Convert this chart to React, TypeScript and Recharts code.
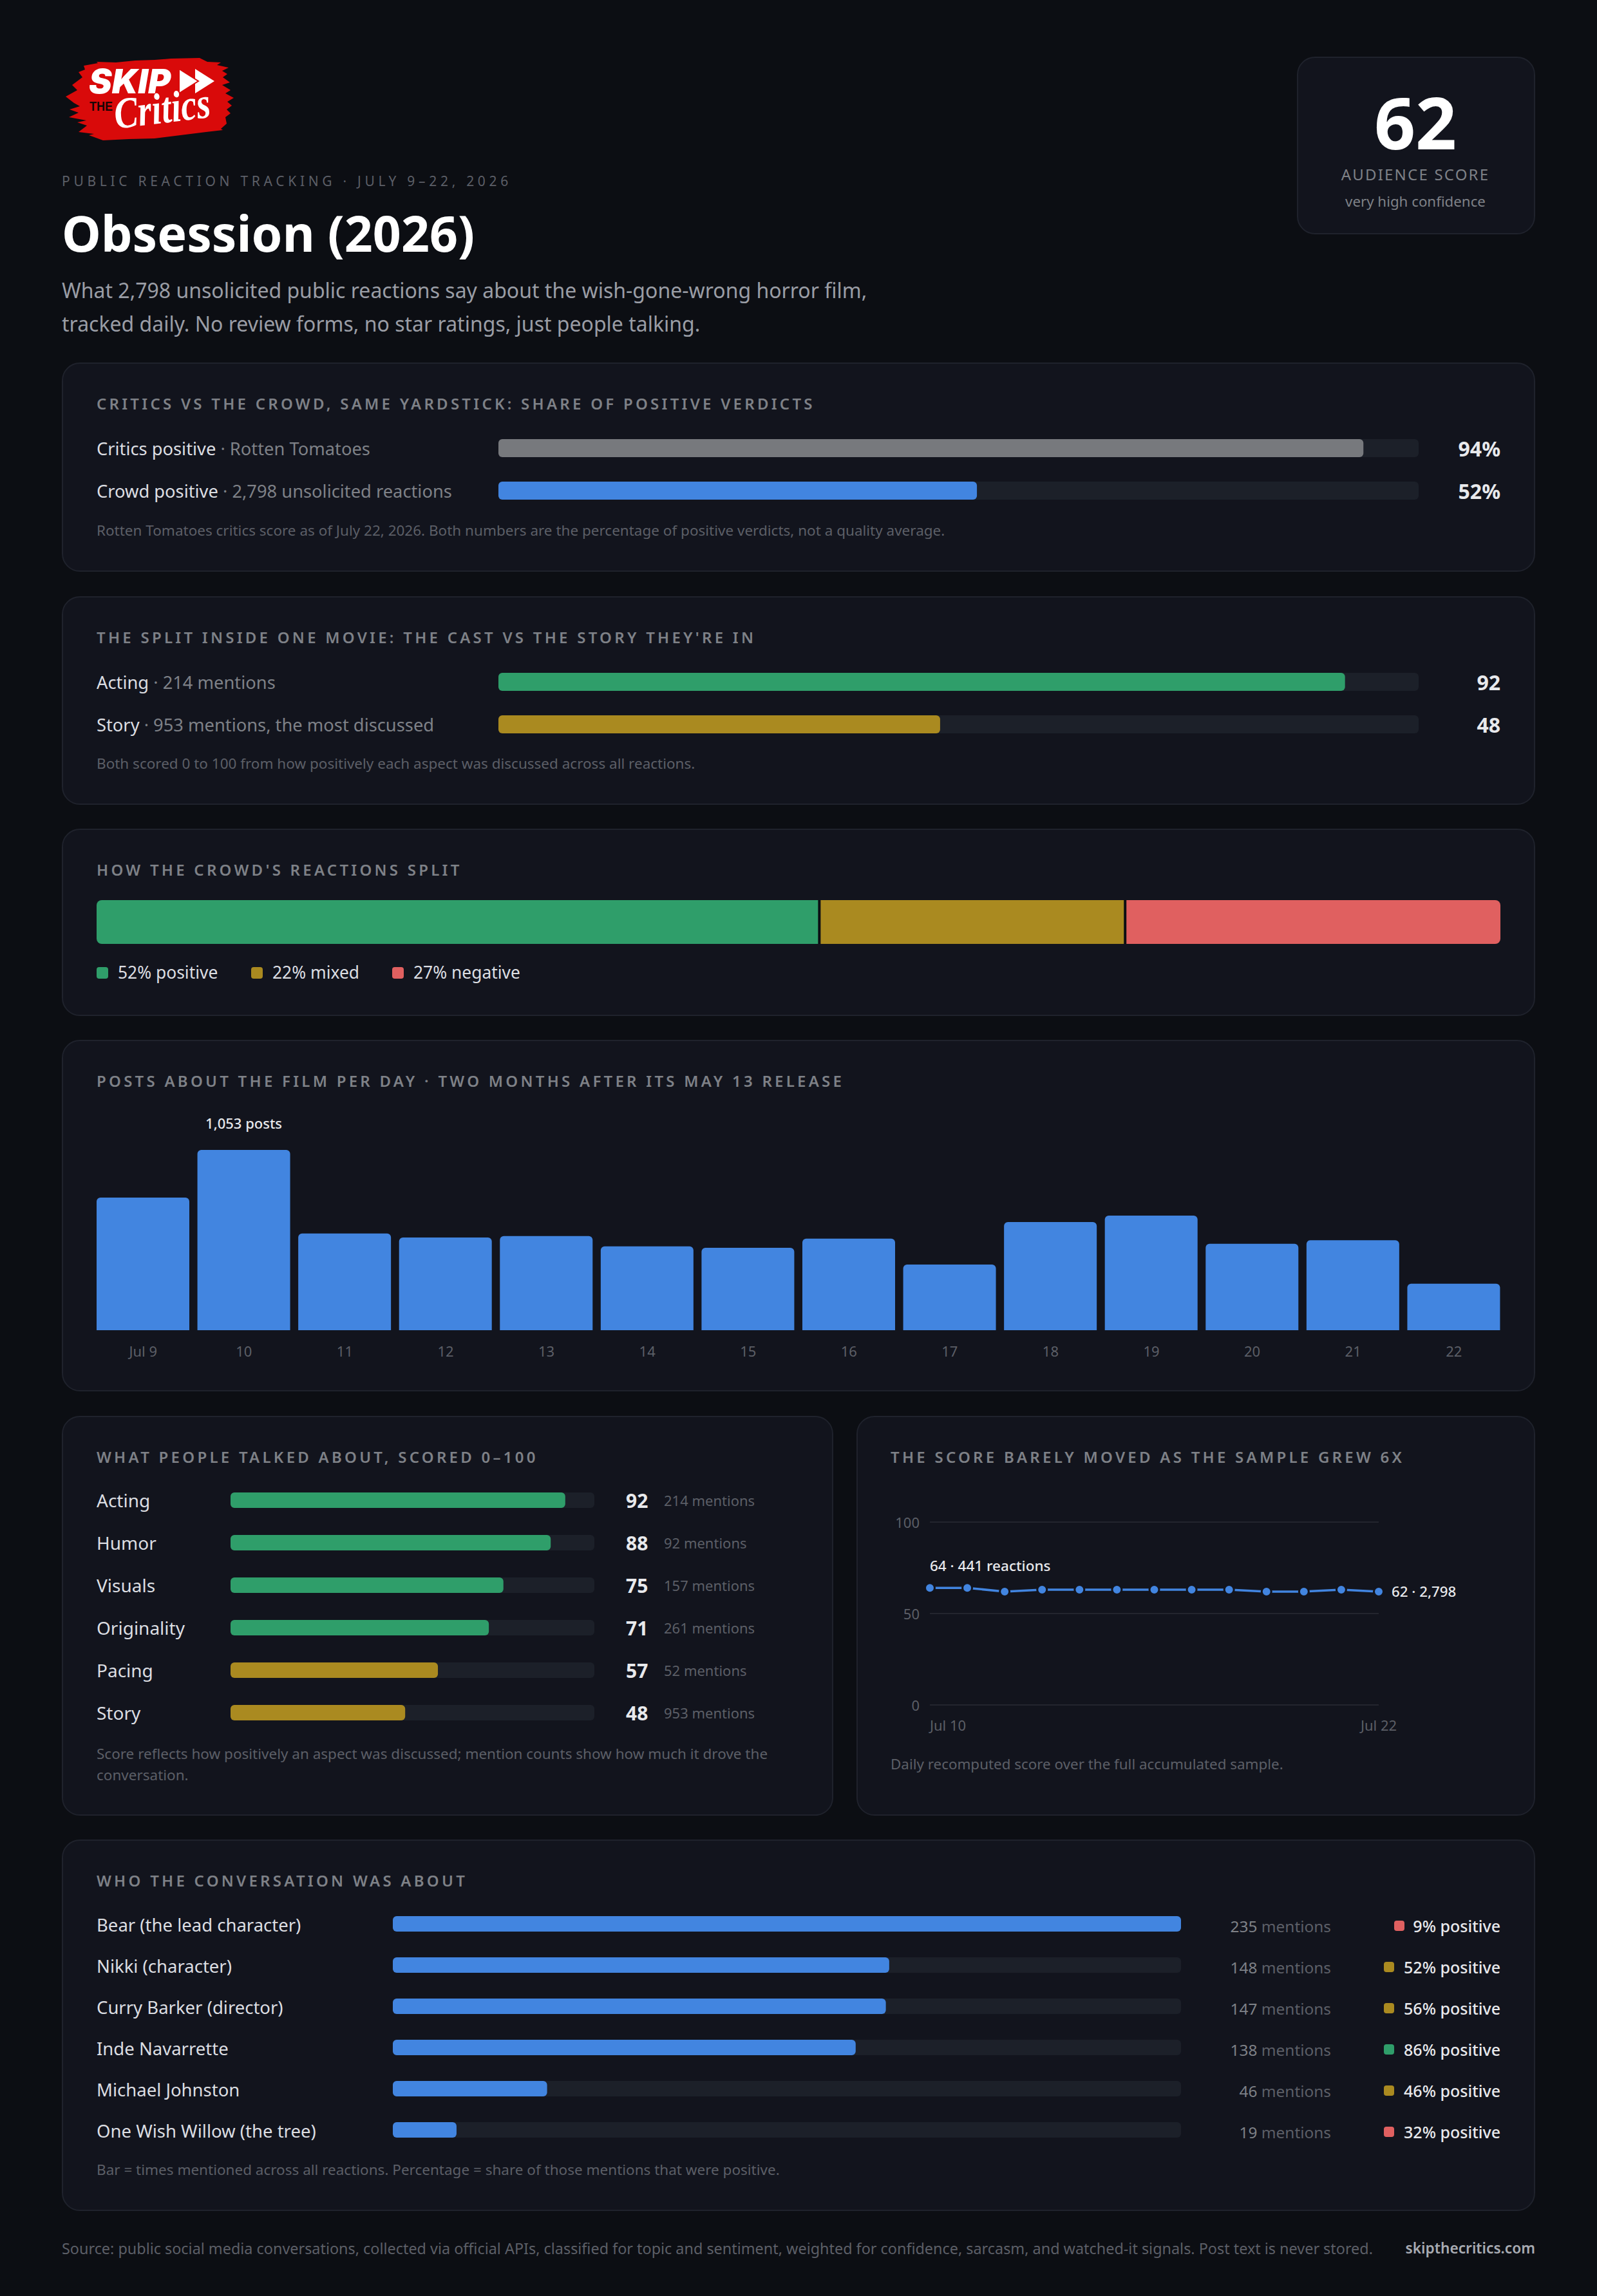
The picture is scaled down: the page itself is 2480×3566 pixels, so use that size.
import React from "react";
import {
  Bar,
  BarChart,
  CartesianGrid,
  Cell,
  Line,
  LineChart,
  ReferenceLine,
  XAxis,
  YAxis,
} from "recharts";

const BG = "#0c0e13";
const CARD = "#12141d";
const BORDER = "#1f222c";
const TRACK = "#1c2029";
const BLUE = "#4285e0";
const GREY = "#77797d";
const GREEN = "#2f9e6a";
const GOLD = "#aa8a20";
const RED = "#e06060";
const TEXT = "#e8e9ec";
const LABEL = "#dcdee2";
const MUTED = "#7e8187";
const DIM = "#5c5f67";
const FONT = '"Noto Sans", sans-serif';

const verdictNames = ["Critics positive", "Crowd positive"];
const verdictSources = ["Rotten Tomatoes", "2,798 unsolicited reactions"];
const verdictValues = [94, 52];

const splitNames = ["Acting", "Story"];
const splitNotes = ["214 mentions", "953 mentions, the most discussed"];
const splitValues = [92, 48];

const reactionNames = ["positive", "mixed", "negative"];
const reactionValues = [52, 22, 27];

const dayLabels = ["Jul 9", "10", "11", "12", "13", "14", "15", "16", "17", "18", "19", "20", "21", "22"];
const dayPosts = [775, 1053, 565, 542, 550, 490, 481, 535, 384, 632, 669, 505, 526, 272];

const aspectNames = ["Acting", "Humor", "Visuals", "Originality", "Pacing", "Story"];
const aspectScores = [92, 88, 75, 71, 57, 48];
const aspectMentions = [214, 92, 157, 261, 52, 953];

const scoreDates = ["Jul 10", "Jul 11", "Jul 12", "Jul 13", "Jul 14", "Jul 15", "Jul 16", "Jul 17", "Jul 18", "Jul 19", "Jul 20", "Jul 21", "Jul 22"];
const scoreValues = [64, 64, 62, 63, 63, 63, 63, 63, 63, 62, 62, 63, 62];
const scoreTicks = [0, 50, 100];
const firstSample = 441;
const lastSample = 2798;

const peopleNames = ["Bear (the lead character)", "Nikki (character)", "Curry Barker (director)", "Inde Navarrette", "Michael Johnston", "One Wish Willow (the tree)"];
const peopleMentions = [235, 148, 147, 138, 46, 19];
const peoplePositive = [9, 52, 56, 86, 46, 32];

const aspectColor = (v: number) => (v >= 60 ? GREEN : GOLD);
const sentimentColor = (v: number) => (v >= 60 ? GREEN : v >= 40 ? GOLD : RED);

function T({ x, cy, size, color, weight = 400, spacing = 0, anchor = "left", children }: any) {
  const h = Math.round(size * 1.5);
  const pos: any = anchor === "right" ? { right: 2480 - x } : anchor === "center" ? { left: x, transform: "translateX(-50%)" } : { left: x };
  return (
    <div
      style={{
        position: "absolute",
        top: cy - h / 2,
        ...pos,
        height: h,
        lineHeight: `${h}px`,
        fontSize: size,
        color,
        fontWeight: weight,
        letterSpacing: spacing,
        whiteSpace: "nowrap",
      }}
    >
      {children}
    </div>
  );
}

function Card({ x, y, w, h }: any) {
  return (
    <div
      style={{
        position: "absolute",
        left: x,
        top: y,
        width: w,
        height: h,
        boxSizing: "border-box",
        background: CARD,
        border: `2px solid ${BORDER}`,
        borderRadius: 28,
      }}
    />
  );
}

function CardTitle({ x = 150, cy, children }: any) {
  return (
    <T x={x} cy={cy} size={24} color={MUTED} weight={600} spacing={4.25}>
      {children}
    </T>
  );
}

function Logo() {
  const brush =
    "70,42 92,38 90,36 120,37 150,34 180,33 205,31 250,30 262,36 283,37 277,41 295,45 285,50 293,55 286,60 297,68 285,72 298,80 290,85 303,92 293,98 300,104 292,110 298,116 290,122 292,132 283,140 286,142 260,145 220,150 180,155 140,156 100,158 78,150 86,148 62,145 75,135 60,130 74,127 47,122 62,115 48,110 64,105 55,100 42,90 60,80 52,72 68,60 62,52 72,48";
  return (
    <svg style={{ position: "absolute", left: 60, top: 60 }} width={400} height={200} viewBox="0 0 400 200">
      <polygon points={brush} fill="#d90a0a" />
      <text x={78} y={85} fontFamily="Inter" fontWeight={900} fontStyle="italic" fontSize={52} fill="#fff" textLength={127} lengthAdjust="spacingAndGlyphs">
        SKIP
      </text>
      <polygon points="243,47 243,85 273,66" fill="#fff" />
      <polygon points="218,47 218,85 248,66" fill="#fff" stroke="#d90a0a" strokeWidth={2} />
      <text x={79} y={112} fontFamily="Liberation Sans" fontWeight={700} fontSize={20} fill="#160505" textLength={36} lengthAdjust="spacingAndGlyphs">
        THE
      </text>
      <text x={120} y={140} transform="rotate(-7 120 140)" fontFamily="Liberation Serif" fontWeight={700} fontStyle="italic" fontSize={68} fill="#fff" textLength={150} lengthAdjust="spacingAndGlyphs">
        Critics
      </text>
    </svg>
  );
}

// horizontal bars on a track, with text columns drawn as the two category axes
function HBars({ data, max, x, cy, width, leftW, rightW, step, barSize, radius = 6, color, left, right }: any) {
  const height = data.length * step;
  return (
    <div style={{ position: "absolute", left: x, top: cy - step / 2 }}>
      <BarChart width={width} height={height} data={data} layout="vertical" margin={{ top: 0, right: 0, bottom: 0, left: 0 }}>
        <XAxis type="number" domain={[0, max]} hide />
        <YAxis
          yAxisId="left"
          type="category"
          dataKey="name"
          width={leftW}
          axisLine={false}
          tickLine={false}
          interval={0}
          tick={(p: any) => left(data[p.index], p.y)}
        />
        <YAxis
          yAxisId="right"
          orientation="right"
          type="category"
          dataKey="name"
          width={rightW}
          axisLine={false}
          tickLine={false}
          interval={0}
          tick={(p: any) => right(data[p.index], p.y, width)}
        />
        <Bar yAxisId="left" dataKey="value" barSize={barSize} radius={radius} background={{ fill: TRACK, radius }} isAnimationActive={false}>
          {data.map((d: any) => (
            <Cell key={d.name} fill={color(d)} />
          ))}
        </Bar>
      </BarChart>
    </div>
  );
}

const verdictRows = verdictNames.map((name, i) => ({ name, sub: verdictSources[i], value: verdictValues[i] }));
const splitRows = splitNames.map((name, i) => ({ name, sub: splitNotes[i], value: splitValues[i] }));
const aspectRows = aspectNames.map((name, i) => ({ name, value: aspectScores[i], mentions: aspectMentions[i] }));
const peopleRows = peopleNames.map((name, i) => ({ name, value: peopleMentions[i], positive: peoplePositive[i] }));
const reactionRow = [Object.fromEntries(reactionNames.map((n, i) => [n, reactionValues[i]]))];
const postRows = dayLabels.map((day, i) => ({ day, posts: dayPosts[i] }));
const scoreRows = scoreDates.map((date, i) => ({ date, score: scoreValues[i] }));
const reactionColors = [GREEN, GOLD, RED];
const reactionTotal = reactionValues.reduce((a, b) => a + b, 0);

const mainLabel = (d: any, y: number) => (
  <text x={0} y={y} dominantBaseline="central" fontFamily={FONT} fontSize={27.3}>
    <tspan fill={LABEL}>{d.name}</tspan>
    <tspan fill={MUTED}> · {d.sub}</tspan>
  </text>
);

export default function App() {
  return (
    <div style={{ position: "absolute", left: 0, top: 0, width: 2480, height: 3566, background: BG, fontFamily: FONT, overflow: "hidden" }}>
      <Logo />
      <T x={96} cy={281} size={21} color={DIM} spacing={5.7}>
        PUBLIC REACTION TRACKING · JULY 9–22, 2026
      </T>
      <T x={96} cy={362} size={77} color="#ffffff" weight={700}>
        Obsession (2026)
      </T>
      <T x={96} cy={451} size={32} color="#9a9da5">
        What 2,798 unsolicited public reactions say about the wish-gone-wrong horror film,
      </T>
      <T x={96} cy={503} size={32} color="#9a9da5">
        tracked daily. No review forms, no star ratings, just people talking.
      </T>

      <Card x={2014} y={88} w={370} h={276} />
      <T x={2198} cy={189} size={112} color="#ffffff" weight={700} anchor="center">
        62
      </T>
      <T x={2198} cy={271} size={24} color={MUTED} spacing={2.2} anchor="center">
        AUDIENCE SCORE
      </T>
      <T x={2198} cy={312} size={22.3} color={MUTED} anchor="center">
        very high confidence
      </T>

      <Card x={96} y={563} w={2288} h={325} />
      <CardTitle cy={627}>CRITICS VS THE CROWD, SAME YARDSTICK: SHARE OF POSITIVE VERDICTS</CardTitle>
      <HBars
        data={verdictRows}
        max={100}
        x={150}
        cy={696}
        width={2180}
        leftW={624}
        rightW={127}
        step={66}
        barSize={28}
        color={(d: any) => (d.name === verdictNames[0] ? GREY : BLUE)}
        left={mainLabel}
        right={(d: any, y: number, w: number) => (
          <text x={w} y={y} textAnchor="end" dominantBaseline="central" fontFamily={FONT} fontSize={32} fontWeight={700} fill={TEXT}>
            {d.value}%
          </text>
        )}
      />
      <T x={150} cy={824} size={22.5} color={DIM}>
        Rotten Tomatoes critics score as of July 22, 2026. Both numbers are the percentage of positive verdicts, not a quality average.
      </T>

      <Card x={96} y={926} w={2288} h={324} />
      <CardTitle cy={990}>THE SPLIT INSIDE ONE MOVIE: THE CAST VS THE STORY THEY'RE IN</CardTitle>
      <HBars
        data={splitRows}
        max={100}
        x={150}
        cy={1059}
        width={2180}
        leftW={624}
        rightW={127}
        step={66}
        barSize={28}
        color={(d: any) => (d.name === splitNames[0] ? GREEN : GOLD)}
        left={mainLabel}
        right={(d: any, y: number, w: number) => (
          <text x={w} y={y} textAnchor="end" dominantBaseline="central" fontFamily={FONT} fontSize={32} fontWeight={700} fill={TEXT}>
            {d.value}
          </text>
        )}
      />
      <T x={150} cy={1186} size={22.5} color={DIM}>
        Both scored 0 to 100 from how positively each aspect was discussed across all reactions.
      </T>

      <Card x={96} y={1287} w={2288} h={291} />
      <CardTitle cy={1351}>HOW THE CROWD'S REACTIONS SPLIT</CardTitle>
      <div style={{ position: "absolute", left: 150, top: 1398 }}>
        <BarChart width={2180} height={68} data={reactionRow} layout="vertical" barCategoryGap={0} margin={{ top: 0, right: 0, bottom: 0, left: 0 }}>
          <XAxis type="number" domain={[0, reactionTotal]} hide />
          <YAxis type="category" hide />
          {reactionNames.map((n, i) => (
            <Bar
              key={n}
              dataKey={n}
              stackId="split"
              fill={reactionColors[i]}
              radius={i === 0 ? [8, 0, 0, 8] : i === 2 ? [0, 8, 8, 0] : 0}
              isAnimationActive={false}
            />
          ))}
          <ReferenceLine x={reactionValues[0]} stroke={BG} strokeWidth={4} />
          <ReferenceLine x={reactionValues[0] + reactionValues[1]} stroke={BG} strokeWidth={4} />
        </BarChart>
      </div>
      {[150, 390, 609].map((sx, i) => (
        <React.Fragment key={sx}>
          <div style={{ position: "absolute", left: sx, top: 1502, width: 18, height: 18, borderRadius: 4, background: reactionColors[i] }} />
          <T x={sx + 33} cy={1510} size={26.4} color={LABEL}>
            {reactionValues[i]}% {reactionNames[i]}
          </T>
        </React.Fragment>
      ))}

      <Card x={96} y={1615} w={2288} h={546} />
      <CardTitle cy={1679}>POSTS ABOUT THE FILM PER DAY · TWO MONTHS AFTER ITS MAY 13 RELEASE</CardTitle>
      <div style={{ position: "absolute", left: 144, top: 1720 }}>
        <BarChart width={2192} height={400} data={postRows} barCategoryGap={0} margin={{ top: 66, right: 0, bottom: 0, left: 0 }}>
          <XAxis
            dataKey="day"
            height={54}
            axisLine={false}
            tickLine={false}
            interval={0}
            tick={(p: any) => (
              <text x={p.x} y={378} textAnchor="middle" dominantBaseline="central" fontFamily={FONT} fontSize={22} fill={DIM}>
                {p.payload.value}
              </text>
            )}
          />
          <YAxis domain={[0, Math.max(...dayPosts)]} hide />
          <Bar
            dataKey="posts"
            fill={BLUE}
            barSize={144}
            radius={[6, 6, 0, 0]}
            isAnimationActive={false}
            label={(p: any) =>
              p.value === Math.max(...dayPosts) ? (
                <text x={p.x + p.width / 2} y={p.y - 42} textAnchor="middle" dominantBaseline="central" fontFamily={FONT} fontSize={22} fontWeight={500} fill={TEXT}>
                  {p.value.toLocaleString("en-US")} posts
                </text>
              ) : (
                <g />
              )
            }
          />
        </BarChart>
      </div>

      <Card x={96} y={2199} w={1198} h={621} />
      <CardTitle cy={2263}>WHAT PEOPLE TALKED ABOUT, SCORED 0–100</CardTitle>
      <HBars
        data={aspectRows}
        max={100}
        x={150}
        cy={2330}
        width={1100}
        leftW={208}
        rightW={327}
        step={66}
        barSize={24}
        color={(d: any) => aspectColor(d.value)}
        left={(d: any, y: number) => (
          <text x={0} y={y} dominantBaseline="central" fontFamily={FONT} fontSize={28} fill={LABEL}>
            {d.name}
          </text>
        )}
        right={(d: any, y: number) => (
          <text y={y} dominantBaseline="central" fontFamily={FONT}>
            <tspan x={822} fontSize={30} fontWeight={700} fill={TEXT}>
              {d.value}
            </tspan>
            <tspan x={881} fontSize={22} fill={DIM}>
              {d.mentions} mentions
            </tspan>
          </text>
        )}
      />
      <T x={150} cy={2724} size={22.5} color={DIM}>
        Score reflects how positively an aspect was discussed; mention counts show how much it drove the
      </T>
      <T x={150} cy={2757} size={22.5} color={DIM}>
        conversation.
      </T>

      <Card x={1330} y={2199} w={1054} h={621} />
      <CardTitle x={1383} cy={2263}>
        THE SCORE BARELY MOVED AS THE SAMPLE GREW 6X
      </CardTitle>
      <div style={{ position: "absolute", left: 1340, top: 2330 }}>
        <LineChart width={1000} height={380} data={scoreRows} margin={{ top: 34, right: 199, bottom: 0, left: 0 }}>
          <CartesianGrid vertical={false} stroke="#23252e" strokeWidth={2} />
          <XAxis
            dataKey="date"
            height={62}
            axisLine={false}
            tickLine={false}
            interval={0}
            tick={(p: any) =>
              p.index === 0 || p.index === scoreDates.length - 1 ? (
                <text x={p.x} y={349} textAnchor={p.index === 0 ? "start" : "middle"} dominantBaseline="central" fontFamily={FONT} fontSize={22} fill={DIM}>
                  {p.payload.value}
                </text>
              ) : (
                <g />
              )
            }
          />
          <YAxis
            domain={[0, 100]}
            ticks={scoreTicks}
            width={104}
            axisLine={false}
            tickLine={false}
            tick={(p: any) => (
              <text x={88} y={p.y} textAnchor="end" dominantBaseline="central" fontFamily={FONT} fontSize={22} fill={DIM}>
                {p.payload.value}
              </text>
            )}
          />
          <Line
            dataKey="score"
            stroke={BLUE}
            strokeWidth={3.5}
            dot={{ r: 7.5, fill: BLUE, stroke: CARD, strokeWidth: 3 }}
            isAnimationActive={false}
            label={(p: any) =>
              p.index === 0 ? (
                <text x={p.x} y={p.y - 35} dominantBaseline="central" fontFamily={FONT} fontSize={22.5} fontWeight={500} fill={TEXT}>
                  {p.value} · {firstSample} reactions
                </text>
              ) : p.index === scoreDates.length - 1 ? (
                <text x={p.x + 20} y={p.y} dominantBaseline="central" fontFamily={FONT} fontSize={22.3} fontWeight={500} fill={TEXT}>
                  {p.value} · {lastSample.toLocaleString("en-US")}
                </text>
              ) : (
                <g />
              )
            }
          />
        </LineChart>
      </div>
      <T x={1383} cy={2740} size={22.4} color={DIM}>
        Daily recomputed score over the full accumulated sample.
      </T>

      <Card x={96} y={2857} w={2288} h={577} />
      <CardTitle cy={2921}>WHO THE CONVERSATION WAS ABOUT</CardTitle>
      <HBars
        data={peopleRows}
        max={Math.max(...peopleMentions)}
        x={150}
        cy={2988}
        width={2180}
        leftW={460}
        rightW={496}
        step={64}
        barSize={24}
        color={() => BLUE}
        left={(d: any, y: number) => (
          <text x={0} y={y + 1} dominantBaseline="central" fontFamily={FONT} fontSize={27.5} fill={LABEL}>
            {d.name}
          </text>
        )}
        right={(d: any, y: number, w: number) => (
          <g fontFamily={FONT}>
            <text x={1917} y={y + 3} textAnchor="end" dominantBaseline="central" fontSize={24.4}>
              <tspan fill={MUTED}>{d.value}</tspan>
              <tspan fill={DIM}> mentions</tspan>
            </text>
            <rect x={d.positive >= 10 ? 1999 : 2015} y={y - 5} width={16} height={16} rx={4} fill={sentimentColor(d.positive)} />
            <text x={w} y={y + 3} textAnchor="end" dominantBaseline="central" fontSize={25} fontWeight={500} fill={TEXT}>
              {d.positive}% positive
            </text>
          </g>
        )}
      />
      <T x={150} cy={3370} size={22.5} color={DIM}>
        Bar = times mentioned across all reactions. Percentage = share of those mentions that were positive.
      </T>

      <T x={96} cy={3492} size={23.4} color={DIM}>
        Source: public social media conversations, collected via official APIs, classified for topic and sentiment, weighted for confidence, sarcasm, and watched-it signals. Post text is never stored.
      </T>
      <T x={2384} cy={3492} size={22.7} color="#a8abb2" weight={600} anchor="right">
        skipthecritics.com
      </T>
    </div>
  );
}
